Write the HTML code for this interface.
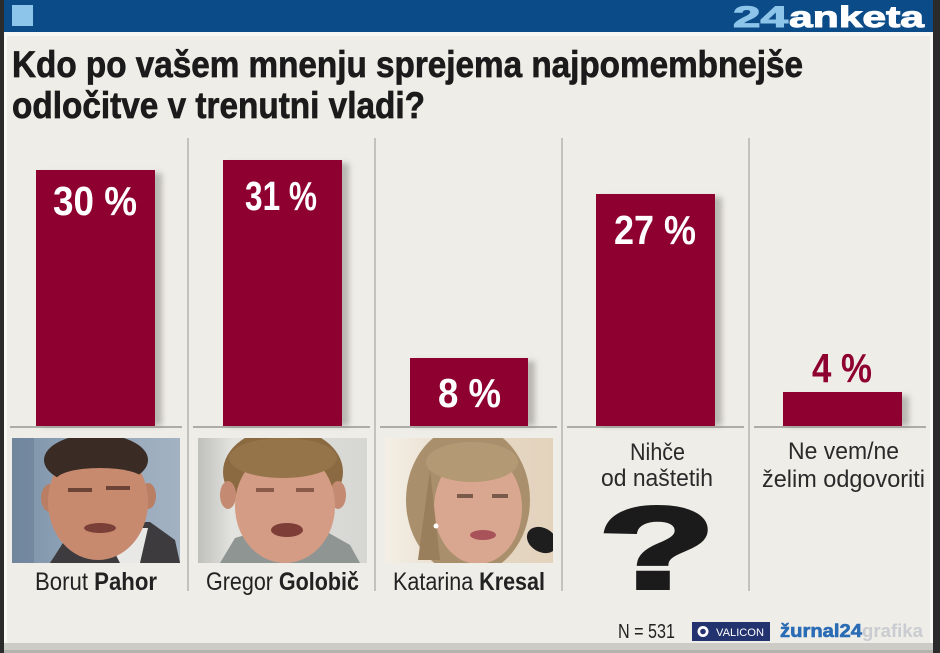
<!DOCTYPE html>
<html>
<head>
<meta charset="utf-8">
<style>
html,body{margin:0;padding:0;background:#efede7;}
svg{display:block;}
text{font-family:"Liberation Sans",sans-serif;}
</style>
</head>
<body>
<svg width="940" height="653" viewBox="0 0 940 653" xmlns="http://www.w3.org/2000/svg">
  <defs>
    <filter id="sh" x="-20%" y="-5%" width="140%" height="110%">
      <feGaussianBlur stdDeviation="3"/>
    </filter>
    <linearGradient id="pbg" x1="0" x2="1" y1="0" y2="0">
      <stop offset="0" stop-color="#7b90a6"/>
      <stop offset="0.35" stop-color="#8fa3b8"/>
      <stop offset="1" stop-color="#a3b2c2"/>
    </linearGradient>
    <linearGradient id="gbg" x1="0" x2="1" y1="0" y2="0">
      <stop offset="0" stop-color="#bfc0bc"/>
      <stop offset="0.2" stop-color="#e2e2de"/>
      <stop offset="1" stop-color="#d6d6d2"/>
    </linearGradient>
    <linearGradient id="kbg" x1="0" x2="1" y1="0" y2="0">
      <stop offset="0" stop-color="#f4efe6"/>
      <stop offset="0.5" stop-color="#e6d9c5"/>
      <stop offset="1" stop-color="#e3d3bd"/>
    </linearGradient>
    <clipPath id="c1"><rect x="12" y="438" width="168" height="125"/></clipPath>
    <clipPath id="c2"><rect x="198" y="438" width="169" height="125"/></clipPath>
    <clipPath id="c3"><rect x="385" y="438" width="168" height="125"/></clipPath>
  </defs>

  <!-- background -->
  <rect x="0" y="0" width="940" height="653" fill="#efede7"/>

  <!-- header -->
  <rect x="0" y="0" width="940" height="32" fill="#0b4b88"/>
  <rect x="0" y="32" width="940" height="4" fill="#f7f7f4"/>
  <rect x="12" y="5" width="21" height="21" fill="#8cc4ea"/>
  <text x="733" y="27" font-size="30" font-weight="bold" fill="#8cc4ea" textLength="55" lengthAdjust="spacingAndGlyphs" stroke="#8cc4ea" stroke-width="1">24</text>
  <text x="789" y="27" font-size="30" font-weight="bold" fill="#ffffff" textLength="135" lengthAdjust="spacingAndGlyphs" stroke="#ffffff" stroke-width="1">anketa</text>

  <!-- borders -->
  <rect x="0" y="0" width="4" height="653" fill="#2b2b2b"/>
  <rect x="4" y="36" width="3" height="607" fill="#f8f8f5"/>
  <rect x="933" y="0" width="7" height="653" fill="#2b2b2b"/>
  <rect x="930" y="36" width="3" height="607" fill="#f8f8f5"/>
  <rect x="4" y="643" width="929" height="10" fill="#cdcbc5"/>
  <rect x="4" y="650" width="929" height="3" fill="#b5b3ad"/>

  <!-- title -->
  <text x="12" y="77" font-size="37" font-weight="bold" fill="#1b1b1b" stroke="#1b1b1b" stroke-width="0.7" textLength="791" lengthAdjust="spacingAndGlyphs">Kdo po vašem mnenju sprejema najpomembnejše</text>
  <text x="12" y="118" font-size="37" font-weight="bold" fill="#1b1b1b" stroke="#1b1b1b" stroke-width="0.7" textLength="413" lengthAdjust="spacingAndGlyphs">odločitve v trenutni vladi?</text>

  <!-- dividers -->
  <g fill="#c4c2bc">
    <rect x="187" y="138" width="2" height="453"/>
    <rect x="374" y="138" width="2" height="453"/>
    <rect x="561" y="138" width="2" height="453"/>
    <rect x="748" y="138" width="2" height="453"/>
  </g>

  <!-- baseline segments -->
  <g fill="#aeaca6">
    <rect x="10" y="426" width="172" height="2"/>
    <rect x="193" y="426" width="177" height="2"/>
    <rect x="380" y="426" width="177" height="2"/>
    <rect x="567" y="426" width="177" height="2"/>
    <rect x="754" y="426" width="172" height="2"/>
  </g>

  <!-- bar shadows -->
  <g fill="#8c8a86" opacity="0.55" filter="url(#sh)">
    <rect x="41" y="173" width="121" height="253"/>
    <rect x="228" y="163" width="121" height="263"/>
    <rect x="415" y="361" width="120" height="65"/>
    <rect x="601" y="197" width="121" height="229"/>
    <rect x="788" y="396" width="121" height="30"/>
  </g>
  <!-- bars -->
  <g fill="#8e0030">
    <rect x="36" y="170" width="119" height="256"/>
    <rect x="223" y="160" width="119" height="266"/>
    <rect x="410" y="358" width="118" height="68"/>
    <rect x="596" y="194" width="119" height="232"/>
    <rect x="783" y="392" width="119" height="34"/>
  </g>

  <!-- bar labels -->
  <g font-size="41" font-weight="bold" fill="#ffffff">
    <text x="53" y="215" textLength="84" lengthAdjust="spacingAndGlyphs">30 %</text>
    <text x="245" y="210" textLength="72" lengthAdjust="spacingAndGlyphs">31 %</text>
    <text x="438" y="407" textLength="63" lengthAdjust="spacingAndGlyphs">8 %</text>
    <text x="614" y="244" textLength="82" lengthAdjust="spacingAndGlyphs">27 %</text>
  </g>
  <text x="812" y="382" font-size="41" font-weight="bold" fill="#8e0030" textLength="60" lengthAdjust="spacingAndGlyphs">4 %</text>

  <!-- photo 1: Pahor -->
  <g clip-path="url(#c1)">
    <rect x="12" y="438" width="168" height="125" fill="url(#pbg)"/>
    <rect x="12" y="438" width="22" height="125" fill="#6a8098" opacity="0.6"/>
    <polygon points="50,563 70,532 100,522 150,522 175,540 180,563" fill="#3d3b3d"/>
    <polygon points="102,528 120,563 140,563 148,528" fill="#e8e8e6"/>
    <ellipse cx="50" cy="498" rx="9" ry="14" fill="#b97e64"/>
    <ellipse cx="148" cy="496" rx="8" ry="13" fill="#b97e64"/>
    <ellipse cx="98" cy="502" rx="50" ry="58" fill="#c88a6f"/>
    <ellipse cx="96" cy="460" rx="52" ry="26" fill="#3a2c24"/>
    <ellipse cx="100" cy="480" rx="44" ry="12" fill="#c88a6f"/>
    <rect x="68" y="488" width="24" height="4" fill="#6b4436"/>
    <rect x="106" y="486" width="24" height="4" fill="#6b4436"/>
    <ellipse cx="100" cy="528" rx="16" ry="5" fill="#7a3f36"/>
  </g>

  <!-- photo 2: Golobic -->
  <g clip-path="url(#c2)">
    <rect x="198" y="438" width="169" height="125" fill="url(#gbg)"/>
    <polygon points="220,563 235,538 270,528 320,528 350,545 360,563" fill="#8f9593"/>
    <ellipse cx="283" cy="472" rx="60" ry="44" fill="#8b6a42"/>
    <ellipse cx="228" cy="495" rx="8" ry="14" fill="#c48a72"/>
    <ellipse cx="338" cy="495" rx="8" ry="14" fill="#c48a72"/>
    <ellipse cx="285" cy="506" rx="50" ry="57" fill="#d49c84"/>
    <ellipse cx="283" cy="458" rx="54" ry="20" fill="#95744a"/>
    <rect x="256" y="488" width="18" height="4" fill="#8a5a48"/>
    <rect x="296" y="488" width="18" height="4" fill="#8a5a48"/>
    <ellipse cx="287" cy="530" rx="16" ry="7" fill="#7e3d36"/>
  </g>

  <!-- photo 3: Kresal -->
  <g clip-path="url(#c3)">
    <rect x="385" y="438" width="168" height="125" fill="url(#kbg)"/>
    <ellipse cx="468" cy="500" rx="62" ry="75" fill="#a98f6c"/>
    <ellipse cx="478" cy="508" rx="44" ry="56" fill="#d9a78f"/>
    <ellipse cx="472" cy="462" rx="46" ry="20" fill="#b49a74"/>
    <polygon points="430,470 440,560 418,560" fill="#9a7f5d"/>
    <rect x="457" y="494" width="16" height="4" fill="#7a5a4a"/>
    <rect x="492" y="494" width="16" height="4" fill="#7a5a4a"/>
    <ellipse cx="483" cy="535" rx="13" ry="5" fill="#a8525a"/>
    <circle cx="436" cy="526" r="2.5" fill="#ffffff"/>
    <ellipse cx="542" cy="540" rx="16" ry="12" fill="#1e1e1e" transform="rotate(30 542 540)"/>
  </g>

  <!-- names -->
  <g font-size="25" fill="#222222">
    <text x="35" y="590" textLength="122" lengthAdjust="spacingAndGlyphs">Borut <tspan font-weight="bold">Pahor</tspan></text>
    <text x="206" y="590" textLength="153" lengthAdjust="spacingAndGlyphs">Gregor <tspan font-weight="bold">Golobič</tspan></text>
    <text x="393" y="590" textLength="152" lengthAdjust="spacingAndGlyphs">Katarina <tspan font-weight="bold">Kresal</tspan></text>
  </g>

  <!-- other labels -->
  <g font-size="24" fill="#2a2a2a">
    <text x="630" y="460" textLength="55" lengthAdjust="spacingAndGlyphs">Nihče</text>
    <text x="601" y="486" textLength="112" lengthAdjust="spacingAndGlyphs">od naštetih</text>
    <text x="788" y="459" textLength="111" lengthAdjust="spacingAndGlyphs">Ne vem/ne</text>
    <text x="762" y="487" textLength="163" lengthAdjust="spacingAndGlyphs">želim odgovoriti</text>
  </g>

  <!-- question mark -->
  <text x="0" y="0" font-size="116" font-weight="bold" fill="#1b1b1b" stroke="#1b1b1b" stroke-width="4" text-anchor="middle" transform="translate(657,588) scale(1.65,1)">?</text>

  <!-- footer -->
  <text x="618" y="638" font-size="20" fill="#222222" textLength="57" lengthAdjust="spacingAndGlyphs">N = 531</text>
  <rect x="692" y="622" width="78" height="19" fill="#23336f"/>
  <circle cx="703" cy="631.5" r="5.5" fill="#ffffff"/>
  <circle cx="703" cy="631.5" r="2.8" fill="#23336f"/>
  <text x="716" y="636" font-size="11" fill="#ffffff" font-family="Liberation Serif, serif" textLength="48" lengthAdjust="spacingAndGlyphs">VALICON</text>
  <text x="780" y="637" font-size="18" font-weight="bold" fill="#2a6cb5" stroke="#2a6cb5" stroke-width="0.6" textLength="82" lengthAdjust="spacingAndGlyphs">žurnal24</text>
  <text x="862" y="637" font-size="18" font-weight="bold" fill="#c9ccd0" textLength="61" lengthAdjust="spacingAndGlyphs">grafika</text>
</svg>
</body>
</html>
